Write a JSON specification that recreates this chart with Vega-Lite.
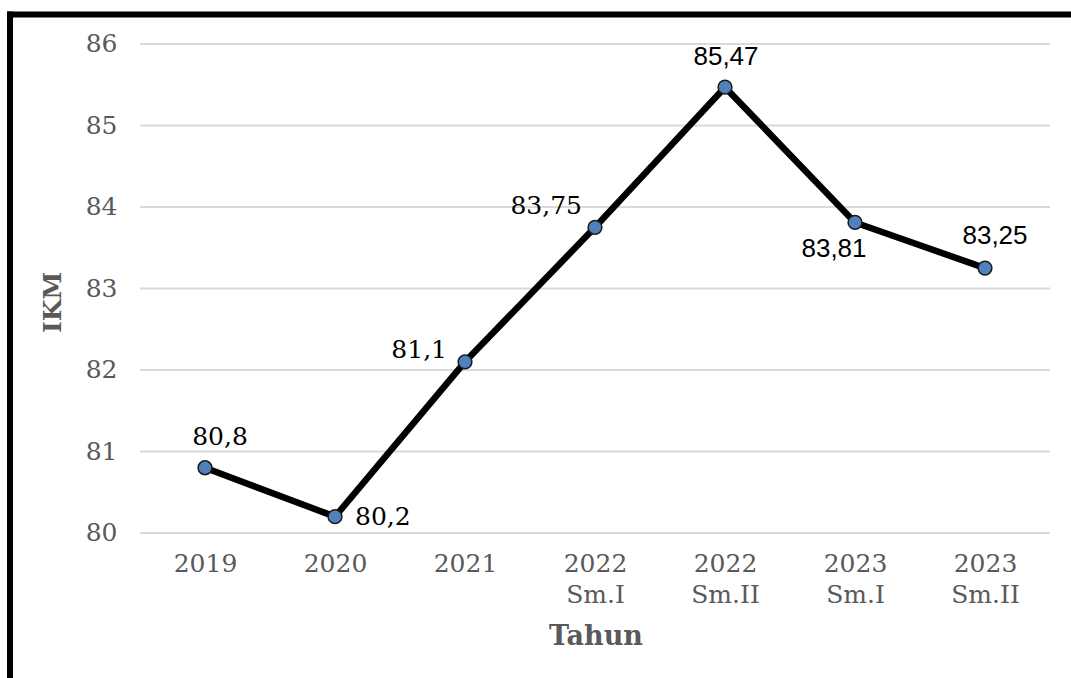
{
  "$schema": "https://vega.github.io/schema/vega-lite/v6.json",
  "width": 1061,
  "height": 663.5,
  "autosize": {"type": "none"},
  "padding": {"left": 10, "top": 14.5, "right": 0, "bottom": 0},
  "background": "white",
  "config": {"view": {"stroke": null}},
  "datasets": {
    "ikm": [
      {"i": 0, "periode": "2019", "nilai": 80.8, "label": "80,8"},
      {"i": 1, "periode": "2020", "nilai": 80.2, "label": "80,2"},
      {"i": 2, "periode": "2021", "nilai": 82.1, "label": "81,1"},
      {"i": 3, "periode": "2022 Sm.I", "nilai": 83.75, "label": "83,75"},
      {"i": 4, "periode": "2022 Sm.II", "nilai": 85.47, "label": "85,47"},
      {"i": 5, "periode": "2023 Sm.I", "nilai": 83.81, "label": "83,81"},
      {"i": 6, "periode": "2023 Sm.II", "nilai": 83.25, "label": "83,25"}
    ],
    "grid": [{"v": 80}, {"v": 81}, {"v": 82}, {"v": 83}, {"v": 84}, {"v": 85}, {"v": 86}]
  },
  "layer": [
    {
      "data": {"name": "ikm"},
      "mark": {"type": "line", "color": "black", "strokeWidth": 6.5, "strokeJoin": "round", "opacity": 0},
      "encoding": {
        "x": {
          "field": "i",
          "type": "quantitative",
          "scale": {"domain": [-1.5, 6.6615], "nice": false, "zero": false},
          "axis": {
            "values": [0, 1, 2, 3, 4, 5, 6],
            "offset": -145,
            "grid": false,
            "domain": false,
            "ticks": false,
            "tickSize": 0,
            "labelFlush": false,
            "labelOverlap": false,
            "labelExpr": "split(['2019','2020','2021','2022 Sm.I','2022 Sm.II','2023 Sm.I','2023 Sm.II'][datum.value], ' ')",
            "labelFont": "DejaVu Serif",
            "labelFontSize": 25,
            "labelColor": "#595959",
            "labelBaseline": "top",
            "labelLineHeight": 31,
            "labelPadding": 18,
            "title": "Tahun",
            "titleFont": "DejaVu Serif",
            "titleFontSize": 27,
            "titleFontWeight": "bold",
            "titleColor": "#595959",
            "titleX": 585.5,
            "titleY": 103,
            "titleAlign": "center",
            "titleBaseline": "middle"
          }
        },
        "y": {
          "field": "nilai",
          "type": "quantitative",
          "scale": {"domain": [78.22, 86.362], "nice": false, "zero": false},
          "axis": {
            "values": [80, 81, 82, 83, 84, 85, 86],
            "format": "d",
            "offset": -130,
            "grid": false,
            "domain": false,
            "ticks": false,
            "tickSize": 0,
            "labelFlush": false,
            "labelOverlap": false,
            "labelFont": "DejaVu Serif",
            "labelFontSize": 25,
            "labelColor": "#595959",
            "labelPadding": 23,
            "labelBaseline": "middle",
            "title": "IKM",
            "titleFont": "DejaVu Serif",
            "titleFontSize": 25,
            "titleFontWeight": "bold",
            "titleColor": "#595959",
            "titleAngle": 270,
            "titleX": -88,
            "titleY": 287.5,
            "titleAlign": "center",
            "titleBaseline": "middle"
          }
        }
      }
    },
    {
      "data": {"name": "grid"},
      "mark": {"type": "rule", "color": "#d9d9d9", "strokeWidth": 2},
      "encoding": {
        "x": {"datum": -0.5, "type": "quantitative"},
        "x2": {"datum": 6.5},
        "y": {"field": "v", "type": "quantitative"}
      }
    },
    {
      "data": {"values": [{}]},
      "mark": {"type": "rule", "color": "black", "strokeWidth": 6, "strokeCap": "square"},
      "encoding": {
        "x": {"datum": -1.5, "type": "quantitative"},
        "y": {"datum": 78.22, "type": "quantitative"},
        "y2": {"datum": 86.362}
      }
    },
    {
      "data": {"values": [{}]},
      "mark": {"type": "rule", "color": "black", "strokeWidth": 6, "strokeCap": "square"},
      "encoding": {
        "x": {"datum": -1.5, "type": "quantitative"},
        "x2": {"datum": 6.6615},
        "y": {"datum": 86.362, "type": "quantitative"}
      }
    },
    {
      "data": {"name": "ikm"},
      "mark": {"type": "line", "color": "black", "strokeWidth": 6.5, "strokeJoin": "round"},
      "encoding": {
        "x": {"field": "i", "type": "quantitative"},
        "y": {"field": "nilai", "type": "quantitative"}
      }
    },
    {
      "data": {"name": "ikm"},
      "mark": {"type": "point", "filled": true, "fill": "#4f81bd", "stroke": "#1a1a1a", "strokeWidth": 1.5, "size": 190, "opacity": 1},
      "encoding": {
        "x": {"field": "i", "type": "quantitative"},
        "y": {"field": "nilai", "type": "quantitative"}
      }
    },
    {
      "data": {"name": "ikm"},
      "transform": [{"filter": "datum.periode == '2019'"}],
      "mark": {"type": "text", "font": "DejaVu Serif", "fontSize": 25, "color": "black", "align": "center", "baseline": "middle", "dx": 15, "dy": -31},
      "encoding": {
        "x": {"field": "i", "type": "quantitative"},
        "y": {"field": "nilai", "type": "quantitative"},
        "text": {"field": "label"}
      }
    },
    {
      "data": {"name": "ikm"},
      "transform": [{"filter": "datum.periode == '2020'"}],
      "mark": {"type": "text", "font": "DejaVu Serif", "fontSize": 25, "color": "black", "align": "left", "baseline": "middle", "dx": 20, "dy": 0},
      "encoding": {
        "x": {"field": "i", "type": "quantitative"},
        "y": {"field": "nilai", "type": "quantitative"},
        "text": {"field": "label"}
      }
    },
    {
      "data": {"name": "ikm"},
      "transform": [{"filter": "datum.periode == '2021'"}],
      "mark": {"type": "text", "font": "DejaVu Serif", "fontSize": 25, "color": "black", "align": "right", "baseline": "middle", "dx": -18, "dy": -12},
      "encoding": {
        "x": {"field": "i", "type": "quantitative"},
        "y": {"field": "nilai", "type": "quantitative"},
        "text": {"field": "label"}
      }
    },
    {
      "data": {"name": "ikm"},
      "transform": [{"filter": "datum.periode == '2022 Sm.I'"}],
      "mark": {"type": "text", "font": "DejaVu Serif", "fontSize": 25, "color": "black", "align": "right", "baseline": "middle", "dx": -13, "dy": -21},
      "encoding": {
        "x": {"field": "i", "type": "quantitative"},
        "y": {"field": "nilai", "type": "quantitative"},
        "text": {"field": "label"}
      }
    },
    {
      "data": {"name": "ikm"},
      "transform": [{"filter": "datum.periode == '2022 Sm.II'"}],
      "mark": {"type": "text", "font": "Liberation Sans", "fontSize": 26, "color": "black", "align": "center", "baseline": "middle", "dx": 1, "dy": -30},
      "encoding": {
        "x": {"field": "i", "type": "quantitative"},
        "y": {"field": "nilai", "type": "quantitative"},
        "text": {"field": "label"}
      }
    },
    {
      "data": {"name": "ikm"},
      "transform": [{"filter": "datum.periode == '2023 Sm.I'"}],
      "mark": {"type": "text", "font": "Liberation Sans", "fontSize": 26, "color": "black", "align": "center", "baseline": "middle", "dx": -21, "dy": 27},
      "encoding": {
        "x": {"field": "i", "type": "quantitative"},
        "y": {"field": "nilai", "type": "quantitative"},
        "text": {"field": "label"}
      }
    },
    {
      "data": {"name": "ikm"},
      "transform": [{"filter": "datum.periode == '2023 Sm.II'"}],
      "mark": {"type": "text", "font": "Liberation Sans", "fontSize": 26, "color": "black", "align": "center", "baseline": "middle", "dx": 10, "dy": -32},
      "encoding": {
        "x": {"field": "i", "type": "quantitative"},
        "y": {"field": "nilai", "type": "quantitative"},
        "text": {"field": "label"}
      }
    }
  ]
}
